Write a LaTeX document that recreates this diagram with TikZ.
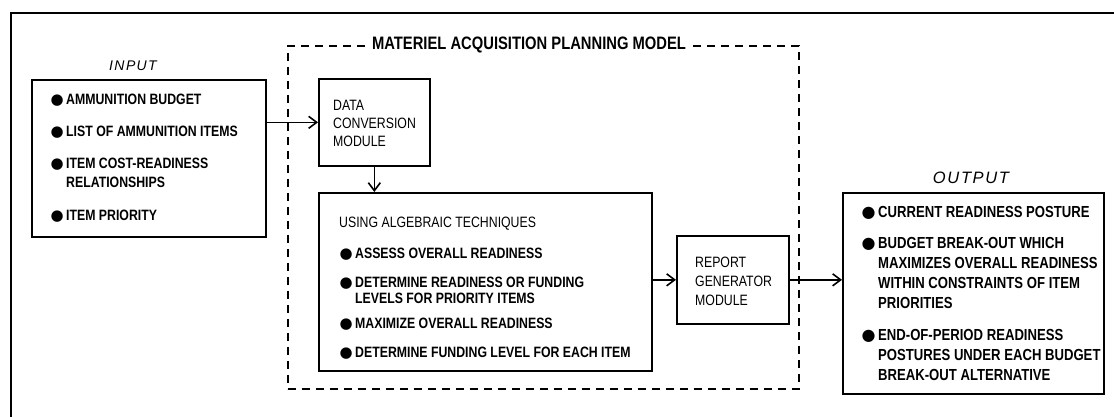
\documentclass[tikz,border=0pt]{standalone}
\usepackage{fontspec}
\setmainfont{Liberation Sans}[FakeStretch=0.82]
\newfontfamily\dotfont{DejaVu Sans}
\newfontfamily\lblfont{Liberation Sans}[LetterSpace=10]
\usetikzlibrary{arrows.meta}

\newcommand{\itm}{\llap{\smash{\dotfont ●}\hspace{2.5pt}}}

\tikzset{
  box/.style={rectangle, draw=black, line width=1.7pt, anchor=north west, inner sep=0pt},
  txt/.style={anchor=north west, inner sep=0pt, align=left, font=\fontsize{15}{19.5}\selectfont\bfseries},
  modtxt/.style={anchor=north west, inner sep=0pt, align=left, font=\fontsize{15}{18}\selectfont},
  arr/.style={-{Straight Barb[length=8pt,width=12pt]}, line width=1.6pt},
}

\begin{document}
\begin{tikzpicture}[x=1pt, y=-1pt]

\useasboundingbox (0,0) rectangle (1114,416);

% frame
\draw [line width=1.9pt] (11,440) -- (11,13) -- (1130,13);

% boxes
\node [box, minimum width=234, minimum height=157] (inbox) at (31,79) {};
\node [box, dashed, dash pattern=on 8pt off 6pt, line width=1.7pt, minimum width=511, minimum height=343] (model) at (287,45) {};
\node [box, minimum width=111, minimum height=87] (dcm) at (318,78) {};
\node [box, minimum width=333, minimum height=178] (alg) at (318,192) {};
\node [box, minimum width=112, minimum height=88] (rgm) at (676,235) {};
\node [box, minimum width=261, minimum height=201] (outbox) at (842,192) {};

% titles
\node [fill=white, inner xsep=5pt, inner ysep=2pt, font=\fontsize{18}{18}\selectfont\bfseries] (modeltitle) at (529,45) {MATERIEL ACQUISITION PLANNING MODEL};
\node [font=\lblfont\itshape\fontsize{14}{14}\selectfont] (inlabel) at (133,66) {INPUT};
\node [font=\lblfont\itshape\fontsize{16.5}{16.5}\selectfont] (outlabel) at (971,178) {OUTPUT};

% texts
\node [txt] (intext) at (66,93.4) {\itm AMMUNITION BUDGET\\[13pt]
  \itm LIST OF AMMUNITION ITEMS\\[12pt]
  \itm ITEM COST-READINESS\\ RELATIONSHIPS\\[13pt]
  \itm ITEM PRIORITY};

\node [modtxt] (dcmtext) at (333,100.4) {DATA\\ CONVERSION\\ MODULE};

\node [txt, font=\fontsize{15}{16.5}\selectfont\bfseries] (algtext) at (339,216.6) {{\mdseries USING ALGEBRAIC TECHNIQUES}\\[14.5pt]
  \hspace*{16pt}\itm ASSESS OVERALL READINESS\\[12.5pt]
  \hspace*{16pt}\itm DETERMINE READINESS OR FUNDING\\
  \hspace*{16pt}LEVELS FOR PRIORITY ITEMS\\[8.5pt]
  \hspace*{16pt}\itm MAXIMIZE OVERALL READINESS\\[12.5pt]
  \hspace*{16pt}\itm DETERMINE FUNDING LEVEL FOR EACH ITEM};

\node [modtxt, font=\fontsize{15}{19}\selectfont] (rgmtext) at (695,256.4) {REPORT\\ GENERATOR\\ MODULE};

\node [txt, font=\fontsize{16}{20}\selectfont\bfseries] (outtext) at (878,206.2) {\itm CURRENT READINESS POSTURE\\[11pt]
  \itm BUDGET BREAK-OUT WHICH\\ MAXIMIZES OVERALL READINESS\\ WITHIN CONSTRAINTS OF ITEM\\ PRIORITIES\\[12pt]
  \itm END-OF-PERIOD READINESS\\ POSTURES UNDER EACH BUDGET\\ BREAK-OUT ALTERNATIVE};

% connectors
\draw [arr] (inbox.east |- dcm.west) -- (dcm.west);
\draw [arr] (dcm.south) -- (dcm.south |- alg.north);
\draw [arr] (alg.east |- rgm.west) -- (rgm.west);
\draw [arr] (rgm.east) -- (rgm.east -| outbox.west);

\end{tikzpicture}
\end{document}
